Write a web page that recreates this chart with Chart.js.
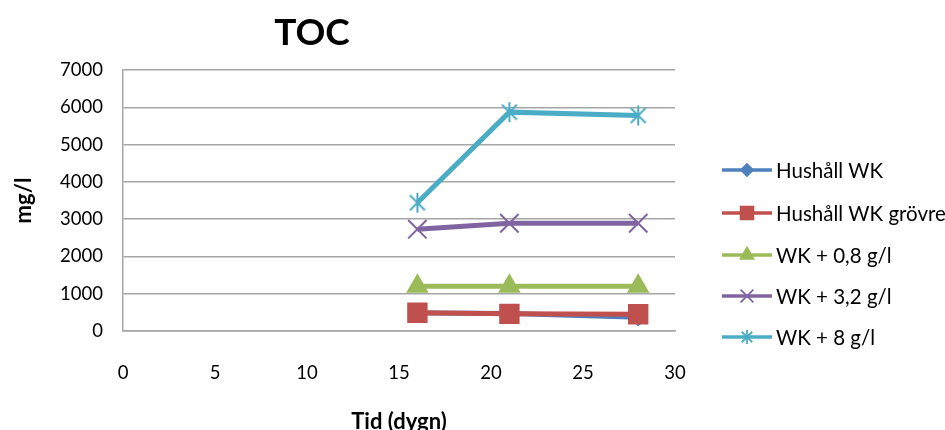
<!DOCTYPE html>
<html>
<head>
<meta charset="utf-8">
<script src="https://cdn.jsdelivr.net/npm/chart.js@4/dist/chart.umd.min.js"></script>
<style>
  html, body { margin: 0; padding: 0; background: #fff; }
  #wrap { width: 945px; height: 430px; position: relative; }
</style>
</head>
<body>
<div id="wrap"><canvas id="c" width="945" height="430"></canvas></div>
<script>
// Sampling days and TOC concentrations (mg/l)
const days = [16, 21, 28];
const hushallWK = [480, 470, 370];
const hushallWKGrovre = [490, 460, 450];
const wk08 = [1200, 1200, 1200];
const wk32 = [2730, 2890, 2890];
const wk8 = [3440, 5870, 5780];

const seriesNames = ['Hushåll WK', 'Hushåll WK grövre', 'WK + 0,8 g/l', 'WK + 3,2 g/l', 'WK + 8 g/l'];
const xTicks = [0, 5, 10, 15, 20, 25, 30];
const yTicks = [0, 1000, 2000, 3000, 4000, 5000, 6000, 7000];

const FONT = 'Lato, "Open Sans", sans-serif';

// Asterisk marker: an X with a vertical stroke through it
function asterisk(size, color, lw) {
  const cv = document.createElement('canvas');
  cv.width = size; cv.height = size;
  const g = cv.getContext('2d');
  g.strokeStyle = color; g.lineWidth = lw; g.lineCap = 'butt';
  const h = size / 2, d = h - 1;
  g.beginPath();
  g.moveTo(h - d * 0.75, h - d * 0.75); g.lineTo(h + d * 0.75, h + d * 0.75);
  g.moveTo(h + d * 0.75, h - d * 0.75); g.lineTo(h - d * 0.75, h + d * 0.75);
  g.moveTo(h, 1); g.lineTo(h, size - 1);
  g.stroke();
  return cv;
}

const colors = ['#4F81BD', '#C0504D', '#9BBB59', '#8064A2', '#4BACC6'];
const styles = [
  { pointStyle: 'rectRot', pointRadius: 8 },
  { pointStyle: 'rect', pointRadius: 13 },
  { pointStyle: 'triangle', pointRadius: 11 },
  { pointStyle: 'crossRot', pointRadius: 13 },
  { pointStyle: asterisk(22, '#4BACC6', 2), pointRadius: 11 }
];
const legendStyles = [
  { pointStyle: 'rectRot', pointRadius: 6 },
  { pointStyle: 'rect', pointRadius: 9 },
  { pointStyle: 'triangle', pointRadius: 7.5 },
  { pointStyle: 'crossRot', pointRadius: 9 },
  { pointStyle: asterisk(16, '#4BACC6', 1.8), pointRadius: 8 }
];
const allValues = [hushallWK, hushallWKGrovre, wk08, wk32, wk8];

const datasets = allValues.map((vals, i) => ({
  label: seriesNames[i],
  data: days.map((d, j) => ({ x: d, y: vals[j] })),
  borderColor: colors[i],
  backgroundColor: colors[i],
  borderWidth: 5,
  pointStyle: styles[i].pointStyle,
  pointRadius: styles[i].pointRadius,
  pointBorderWidth: 2,
  pointBorderColor: colors[i],
  pointBackgroundColor: colors[i],
  tension: 0,
  order: 5 - i
}));

// Chart title and right-hand legend
const decorations = {
  id: 'decorations',
  afterDraw(chart) {
    const ctx = chart.ctx;
    ctx.save();
    ctx.fillStyle = '#000';
    ctx.font = 'bold 37px ' + FONT;
    ctx.textAlign = 'center';
    ctx.textBaseline = 'middle';
    ctx.fillText('TOC', 312, 33);

    const rows = [170, 213, 255, 296, 337];
    ctx.font = '20.5px ' + FONT;
    ctx.textAlign = 'left';
    chart.data.datasets.forEach((ds, i) => {
      const y = rows[i];
      ctx.strokeStyle = ds.borderColor;
      ctx.lineWidth = 3.5;
      ctx.beginPath();
      ctx.moveTo(722, y); ctx.lineTo(772, y);
      ctx.stroke();
      ctx.fillStyle = ds.borderColor;
      ctx.strokeStyle = ds.borderColor;
      ctx.lineWidth = 1.8;
      Chart.helpers.drawPoint(ctx, {
        pointStyle: legendStyles[i].pointStyle,
        rotation: 0,
        radius: legendStyles[i].pointRadius,
        borderWidth: 1.8
      }, 747, y);
      ctx.fillStyle = '#000';
      ctx.fillText(ds.label, 776, y + 1);
    });
    ctx.restore();
  }
};

new Chart(document.getElementById('c'), {
  type: 'line',
  data: { datasets },
  plugins: [decorations],
  options: {
    responsive: false,
    animation: false,
    layout: { padding: { top: 70, right: 270, left: 0, bottom: 0 } },
    plugins: { legend: { display: false }, title: { display: false }, tooltip: { enabled: false } },
    scales: {
      x: {
        type: 'linear',
        min: 0, max: 30,
        afterBuildTicks(s) { s.ticks = xTicks.map(v => ({ value: v })); },
        afterFit(s) { s.height = 99; },
        grid: { display: false, drawTicks: false },
        border: { display: true, color: '#a6a6a6', width: 1.5 },
        ticks: { color: '#000', font: { family: FONT, size: 18.5 }, padding: 31, maxRotation: 0 },
        title: { display: true, text: 'Tid (dygn)', color: '#000', font: { family: FONT, size: 22, weight: 'bold', lineHeight: 0.75 }, padding: { top: 0, bottom: 0 } }
      },
      y: {
        min: 0, max: 7000,
        afterBuildTicks(s) { s.ticks = yTicks.map(v => ({ value: v })); },
        afterFit(s) { s.width = 123; },
        grid: { color: '#a6a6a6', lineWidth: 1.5, drawTicks: false },
        border: { display: true, color: '#a6a6a6', width: 1.5 },
        ticks: { color: '#000', font: { family: FONT, size: 18.5 }, padding: 20, callback: v => String(v) },
        title: { display: true, text: 'mg/l', color: '#000', font: { family: FONT, size: 22, weight: 'bold' }, padding: { top: 11, bottom: 0 } }
      }
    }
  }
});
</script>
</body>
</html>
